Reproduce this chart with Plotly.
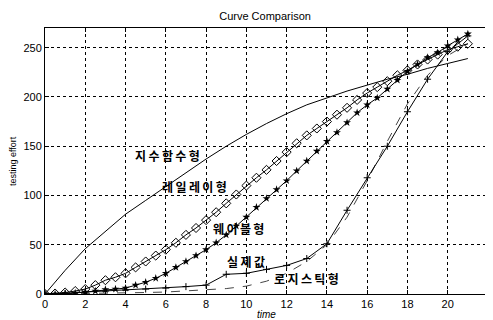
import plotly.graph_objects as go

# --- data ---
t_int = list(range(0, 22))
exponential = [0, 24, 46, 64, 81, 95, 109, 123, 137, 150, 162, 173, 183, 192, 199, 206, 212, 218, 223, 229, 234, 239]
actual = [0, 0.5, 2, 3, 4, 5, 6, 7.5, 9, 20, 21, 25, 29, 36, 51, 85, 118, 150, 185, 218, 246, 262]
logistic = [0, 0.2, 0.4, 0.7, 1, 1.5, 2, 3, 4, 5.5, 8, 13, 21, 33, 50, 78, 115, 155, 193, 222, 242, 254]

t_half = [i * 0.5 for i in range(0, 43)]
rayleigh = [0, 0.5, 1.5, 3, 5, 9, 14, 17, 21, 27, 33, 39, 45, 52, 60, 67, 75, 83, 92, 101,
            110, 118, 126, 135, 144, 153, 161, 168, 175, 182, 189, 197, 204, 210, 216, 222,
            227, 233, 238, 243, 248, 251, 254]
weibull = [0, 0, 0.5, 1, 2, 3, 4.5, 5, 6, 9, 12, 16, 21, 27, 33, 39, 45, 52, 60, 69,
           78, 88, 97, 106, 115, 125, 135, 145, 155, 164, 174, 184, 192, 199, 208, 217,
           226, 233, 240, 245, 252, 258, 264]

x_ticks = [0, 2, 4, 6, 8, 10, 12, 14, 16, 18, 20, 22]
y_ticks = [0, 50, 100, 150, 200, 250]

labels = [
    ("지수함수형", 6.1, 141),
    ("레일레이형", 7.4, 109),
    ("웨이블형", 9.6, 66),
    ("실제값", 10.0, 33),
    ("로지스틱형", 13.0, 16),
]

fig = go.Figure()
fig.add_trace(go.Scatter(x=t_int, y=exponential, mode="lines",
                         line=dict(color="black", width=1)))
fig.add_trace(go.Scatter(x=t_int, y=logistic, mode="lines",
                         line=dict(color="#444", width=1, dash="dash")))
fig.add_trace(go.Scatter(x=t_int, y=actual, mode="lines+markers",
                         line=dict(color="black", width=1),
                         marker=dict(symbol="cross-thin-open", size=5,
                                     line=dict(color="black", width=1))))
fig.add_trace(go.Scatter(x=t_half, y=rayleigh, mode="lines+markers",
                         line=dict(color="black", width=1),
                         marker=dict(symbol="diamond-open", size=7, color="black",
                                     line=dict(color="black", width=1))))
fig.add_trace(go.Scatter(x=t_half, y=weibull, mode="lines+markers",
                         line=dict(color="black", width=1),
                         marker=dict(symbol="star", size=6, color="black")))

sp = "\u2009"
for text, x, y in labels:
    fig.add_annotation(x=x, y=y, text=f"<b>{sp.join(text)}</b>", showarrow=False,
                       font=dict(family="Noto Sans CJK KR", size=12, color="black"))

axis_common = dict(
    showgrid=True, gridcolor="black", griddash="dot", gridwidth=1,
    showline=True, linecolor="black", linewidth=1, mirror="ticks",
    ticks="inside", ticklen=4, tickcolor="black",
    tickfont=dict(family="Liberation Sans, Arial", size=11, color="black"),
    zeroline=False, automargin=False,
)

fig.update_xaxes(range=[0, 22], tickvals=x_ticks, **axis_common)
fig.update_yaxes(range=[0, 270], tickvals=y_ticks, **axis_common)

# axis titles as annotations for exact placement
fig.add_annotation(xref="paper", yref="paper", x=0.499, y=-0.076,
                   text="<i>time</i>", showarrow=False, xanchor="center", yanchor="middle",
                   font=dict(family="Liberation Sans, Arial", size=10, color="black"))
fig.add_annotation(xref="paper", yref="paper", x=-0.072, y=0.50,
                   text="testing effort", textangle=-90, showarrow=False,
                   xanchor="center", yanchor="middle",
                   font=dict(family="Liberation Sans, Arial", size=9, color="black"))

# page body has an 8px default margin; size the figure so it fits the 493x320 window
fig.update_layout(
    width=485, height=312,
    margin=dict(l=37, r=5, t=20, b=26),
    plot_bgcolor="white", paper_bgcolor="white",
    showlegend=False,
    title=dict(text="Curve Comparison", x=0.530, xanchor="center", y=0.975, yanchor="middle",
               xref="container", yref="container",
               font=dict(family="Liberation Sans, Arial", size=11, color="black")),
)

fig.write_html("out.html")
